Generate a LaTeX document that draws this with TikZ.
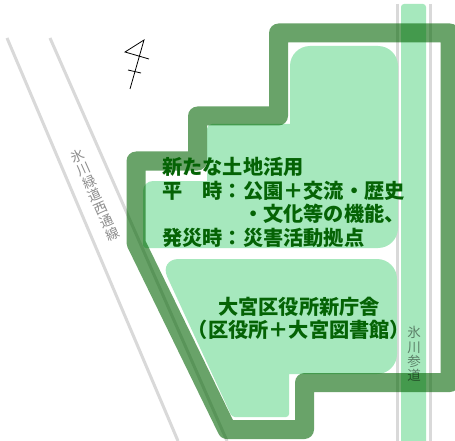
\documentclass[tikz,border=0pt]{standalone}
\usepackage{fontspec}
\setmainfont{Noto Sans CJK JP}
\definecolor{lightarea}{HTML}{A6E8BD}
\definecolor{bandgreen}{HTML}{006400}
\definecolor{textgreen}{HTML}{056305}
\definecolor{roadgrey}{HTML}{D9D9D9}
\tikzset{
  roadline/.style={draw=roadgrey,line width=3pt},
  lightshape/.style={fill=lightarea},
  siteband/.style={draw=bandgreen,draw opacity=0.59,line width=19pt,line join=round},
  maintext/.style={inner sep=0pt,text=textgreen,font=\fontsize{20.2}{23.7}\selectfont\bfseries},
  roadlabel/.style={inner sep=0pt,text=black,text opacity=0.45,align=center,font=\fontsize{13.5}{14.3}\selectfont}
}
\begin{document}
\begin{tikzpicture}[x=1pt,y=-1pt]
\useasboundingbox (0,0) rectangle (455,441);
\clip (0,0) rectangle (455,441);
\fill[white] (0,0) rectangle (455,441);
% roads
\draw[roadline] (7,38) -- (178,441);
\draw[roadline] (50,38) -- (227,441);
\draw[roadline] (397.5,4) -- (397.5,441);
\draw[roadline] (430.5,4) -- (430.5,441);
\fill[lightshape,rounded corners=3] (401,4) -- (426,4) -- (426,460) -- (401,460) -- cycle;
% light areas
\path[lightshape]
  (290,90) [rounded corners=20] -- (290,46) -- (398,46) -- (398,248)
  [rounded corners=3] -- (143,248)
  [rounded corners=10] -- (143,181)
  [sharp corners] -- (207,181)
  [rounded corners=5] -- (207,124)
  [sharp corners] -- (290,124) -- cycle;
\path[lightshape]
  (280,259) [rounded corners=20] -- (397,259) -- (397,374)
  [sharp corners] -- (289,374)
  [rounded corners=3] -- (289,417) -- (232,417)
  [rounded corners=20] -- (159,259) -- cycle;
% site outline
\draw[siteband] (136,161) -- (197.5,161) -- (197.5,116) -- (278.5,116) -- (278.5,33)
  -- (450,33) -- (450,382.5) -- (304.5,382.5) -- (304.5,429.5) -- (227,429.5)
  -- (136,243) -- cycle;
% north mark
\draw[line width=0.8pt,line join=miter] (130,89) -- (144,40) -- (125,52) -- (149,59);
\draw[line width=0.8pt] (128,70) -- (141,73);
% labels
\node[maintext,anchor=west,align=left] (newuse) at (162,202.5)
  {新たな土地活用\\平　時：公園＋交流・歴史\\　　　　・文化等の機能、\\発災時：災害活動拠点};
\node[maintext,align=center] (office) at (299,318.5)
  {大宮区役所新庁舎\\（区役所＋大宮図書館）};
\node[roadlabel,rotate=24] (westroad) at (95,195) {氷\\川\\緑\\道\\西\\通\\線};
\node[roadlabel] (sando) at (414,354) {氷\\川\\参\\道};
\end{tikzpicture}
\end{document}
